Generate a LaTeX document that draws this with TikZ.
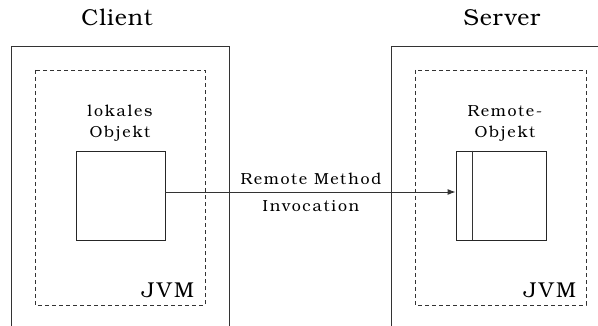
\documentclass[tikz,border=0pt]{standalone}
\usepackage{fontspec}
\setmainfont{texgyrebonum}[Extension=.otf, UprightFont=*-regular]
\usetikzlibrary{arrows.meta}
\begin{document}
\begin{tikzpicture}[x=1pt,y=-1pt,
  line/.style={draw=black!80, line width=0.9pt},
  jvmbox/.style={draw=black!80, line width=0.9pt, dash pattern=on 4pt off 3pt},
  objbox/.style={draw=black!85, line width=0.9pt, minimum width=89pt, minimum height=89pt, inner sep=0pt},
  title/.style={font=\fontsize{23}{24}\selectfont\addfontfeature{LetterSpace=4}, inner sep=0pt, anchor=base},
  small/.style={font=\fontsize{16}{18}\selectfont\addfontfeature{LetterSpace=11}, inner sep=0pt, anchor=base},
  jvm/.style={font=\fontsize{21.5}{22}\selectfont\addfontfeature{LetterSpace=10}, inner sep=0pt, anchor=base east}
]
\useasboundingbox (0,0) rectangle (598,326);
% Client
\node[title] (client) at (117,26) {Client};
\draw[line] (11,326) -- (11,46) -- (229,46) -- (229,326);
\draw[jvmbox] (35,70) rectangle (205,305);
\node[small] (lok1) at (120,117) {lokales};
\node[small] (lok2) at (120,138) {Objekt};
\node[objbox] (local) at (120.5,195.5) {};
\node[jvm] (jvm1) at (194,298) {JVM};
% Server
\node[title] (server) at (502,26) {Server};
\draw[line] (391,326) -- (391,46) -- (598,46);
\draw[jvmbox] (415,70) rectangle (586,305);
\node[small] (rem1) at (505,117) {Remote-};
\node[small] (rem2) at (505,138) {Objekt};
\node[objbox, minimum width=90pt] (remote) at (501,195.5) {};
\draw[line] ([xshift=17pt]remote.north west) -- ([xshift=17pt]remote.south west);
\node[jvm] (jvm2) at (576,298) {JVM};
% RMI
\draw[line, -{Latex[length=8pt,width=6pt]}] ([yshift=3.5pt]local.east) -- ([yshift=3.5pt]remote.west);
\node[small] (rmi1) at (311,185) {Remote Method};
\node[small] (rmi2) at (311,212) {Invocation};
\end{tikzpicture}
\end{document}
